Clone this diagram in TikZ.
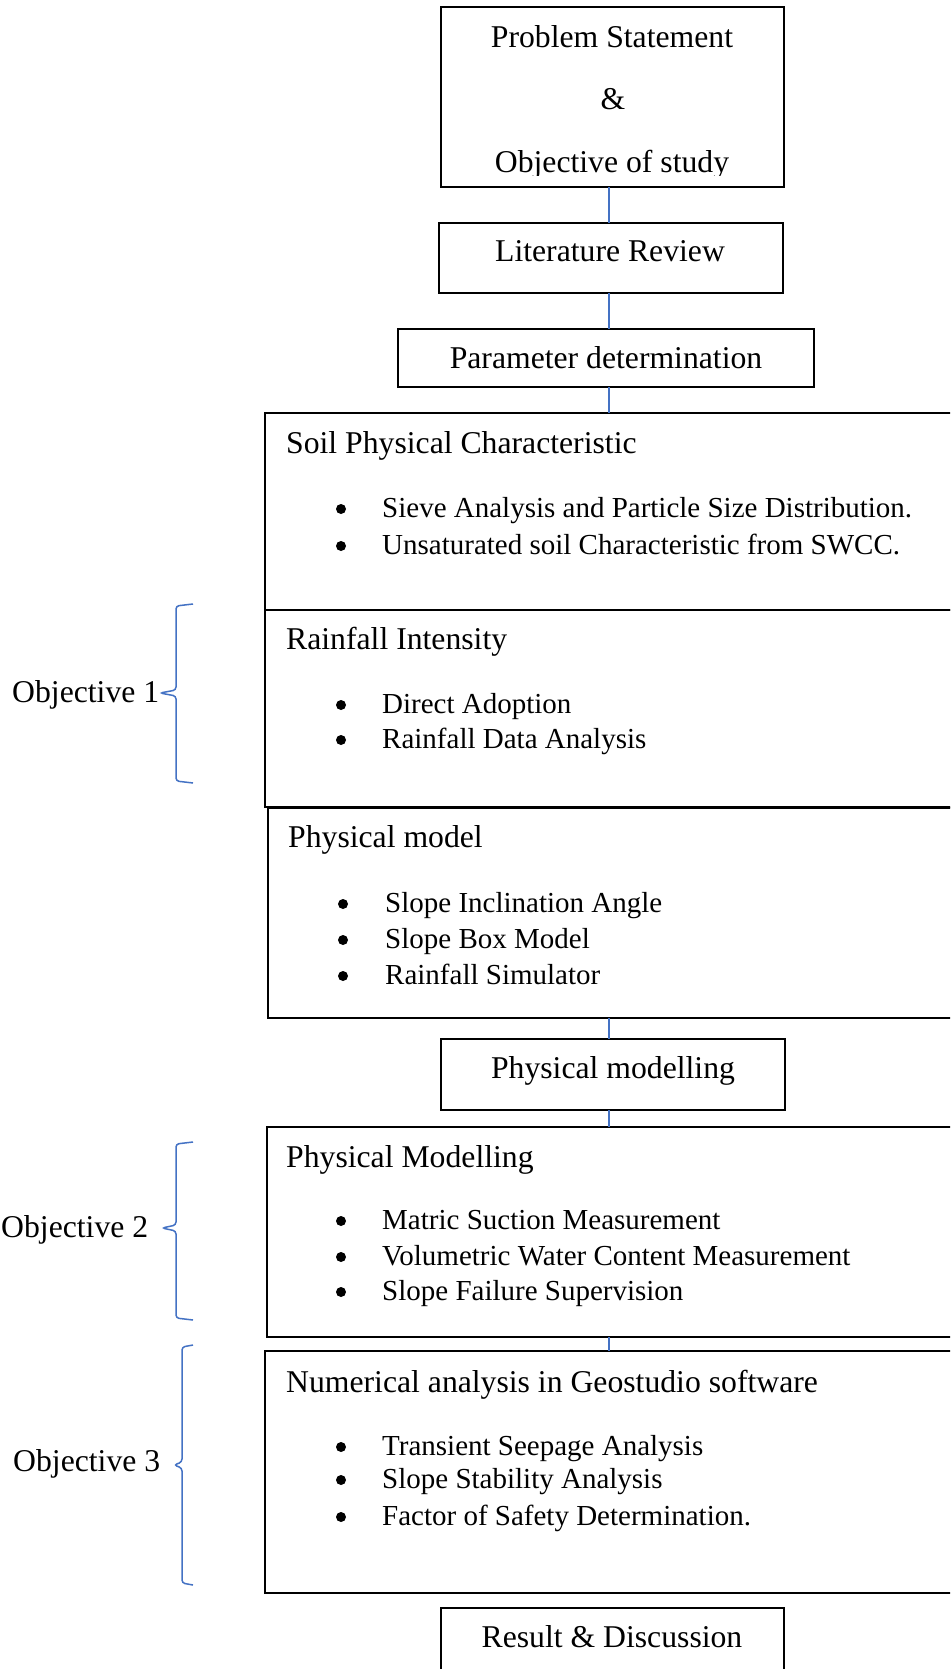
\documentclass[tikz,border=0pt]{standalone}
\usepackage{fontspec}
\setmainfont{Liberation Serif}
\definecolor{lnblue}{HTML}{4472C4}
\begin{document}
\begin{tikzpicture}[x=1pt,y=-1pt,
  box/.style={draw, line width=1.6pt, anchor=north west, inner sep=0pt, outer sep=0pt},
  conn/.style={draw=lnblue, line width=1.3pt},
  brc/.style={draw=lnblue, line width=1.5pt, rounded corners=3pt},
  txt/.style={inner sep=0pt, anchor=base west, font=\fontsize{31.7}{38}\selectfont},
  itm/.style={inner sep=0pt, anchor=base west, font=\fontsize{29}{35}\selectfont},
  ctxt/.style={inner sep=0pt, anchor=base, font=\fontsize{31.7}{38}\selectfont},
  bul/.style={circle, fill=black, inner sep=0pt, minimum size=10pt}]
\useasboundingbox (0,0) rectangle (950,1669);
\clip (0,0) rectangle (950,1669);
\fill[white] (0,0) rectangle (950,1669);
\coordinate (cx) at (609,0);
% boxes
\node[box, minimum width=343pt, minimum height=180pt] (prob) at (441,7) {};
\node[box, minimum width=344pt, minimum height=70pt] (lit) at (439,223) {};
\node[box, minimum width=416pt, minimum height=58pt] (param) at (398,329) {};
\node[box, minimum width=700pt, minimum height=197pt] (soil) at (265,413) {};
\node[box, minimum width=700pt, minimum height=197pt] (rain) at (265,610) {};
\node[box, minimum width=697pt, minimum height=210pt] (phys) at (268,808) {};
\node[box, minimum width=344pt, minimum height=71pt] (pm) at (441,1039) {};
\node[box, minimum width=698pt, minimum height=210pt] (pmod) at (267,1127) {};
\node[box, minimum width=700pt, minimum height=242pt] (num) at (265,1351) {};
\node[box, minimum width=343pt, minimum height=80pt] (res) at (441,1608) {};
% connectors
\draw[conn] (prob.south -| cx) -- (lit.north -| cx);
\draw[conn] (lit.south -| cx) -- (param.north -| cx);
\draw[conn] (param.south -| cx) -- (soil.north -| cx);
\draw[conn] (phys.south -| cx) -- (pm.north -| cx);
\draw[conn] (pm.south -| cx) -- (pmod.north -| cx);
\draw[conn] (pmod.south -| cx) -- (num.north -| cx);
% centered texts
\node[ctxt] (t1) at (612,48) {Problem Statement};
\node[ctxt] (t2) at (613,110) {\&};
\begin{scope}
\clip (441,7) rectangle (784,176);
\node[ctxt] (t3) at (612,173) {Objective of study};
\end{scope}
\node[ctxt] (t4) at (610,262) {Literature Review};
\node[ctxt] (t5) at (606,368) {Parameter determination};
\node[ctxt] (t6) at (613,1078) {Physical modelling};
\node[ctxt] (t7) at (612,1647) {Result \& Discussion};
% soil
\node[txt] (s0) at (286,453) {Soil Physical Characteristic};
\node[bul] (sb1) at (341,509) {};
\node[itm] (s1) at (382,517) {Sieve Analysis and Particle Size Distribution.};
\node[bul] (sb2) at (341,546) {};
\node[itm] (s2) at (382,554) {Unsaturated soil Characteristic from SWCC.};
% rain
\node[txt] (r0) at (286,649) {Rainfall Intensity};
\node[bul] (rb1) at (341,705) {};
\node[itm] (r1) at (382,713) {Direct Adoption};
\node[bul] (rb2) at (341,740) {};
\node[itm] (r2) at (382,748) {Rainfall Data Analysis};
% physical model
\node[txt] (p0) at (288,847) {Physical model};
\node[bul] (pb1) at (343,904) {};
\node[itm] (p1) at (385,912) {Slope Inclination Angle};
\node[bul] (pb2) at (343,940) {};
\node[itm] (p2) at (385,948) {Slope Box Model};
\node[bul] (pb3) at (343,976) {};
\node[itm] (p3) at (385,984) {Rainfall Simulator};
% physical modelling
\node[txt] (m0) at (286,1167) {Physical Modelling};
\node[bul] (mb1) at (341,1221) {};
\node[itm] (m1) at (382,1229) {Matric Suction Measurement};
\node[bul] (mb2) at (341,1257) {};
\node[itm] (m2) at (382,1265) {Volumetric Water Content Measurement};
\node[bul] (mb3) at (341,1292) {};
\node[itm] (m3) at (382,1300) {Slope Failure Supervision};
% numerical
\node[txt] (n0) at (286,1392) {Numerical analysis in Geostudio software};
\node[bul] (nb1) at (341,1447) {};
\node[itm] (n1) at (382,1455) {Transient Seepage Analysis};
\node[bul] (nb2) at (341,1480) {};
\node[itm] (n2) at (382,1488) {Slope Stability Analysis};
\node[bul] (nb3) at (341,1517) {};
\node[itm] (n3) at (382,1525) {Factor of Safety Determination.};
% objectives
\node[txt] (o1) at (12,702) {Objective 1};
\node[txt] (o2) at (1,1237) {Objective 2};
\node[txt] (o3) at (13,1471) {Objective 3};
% brackets
\draw[brc] (193,604) -- (176,606) -- (176,690) -- (160,693) -- (176,696) -- (176,781) -- (193,783);
\draw[brc] (193,1142) -- (176,1144) -- (176,1225) -- (162,1228) -- (176,1231) -- (176,1318) -- (193,1320);
\draw[brc] (193,1345) -- (182,1347) -- (182,1462) -- (174,1465) -- (182,1468) -- (182,1583) -- (193,1585);
\end{tikzpicture}
\end{document}
